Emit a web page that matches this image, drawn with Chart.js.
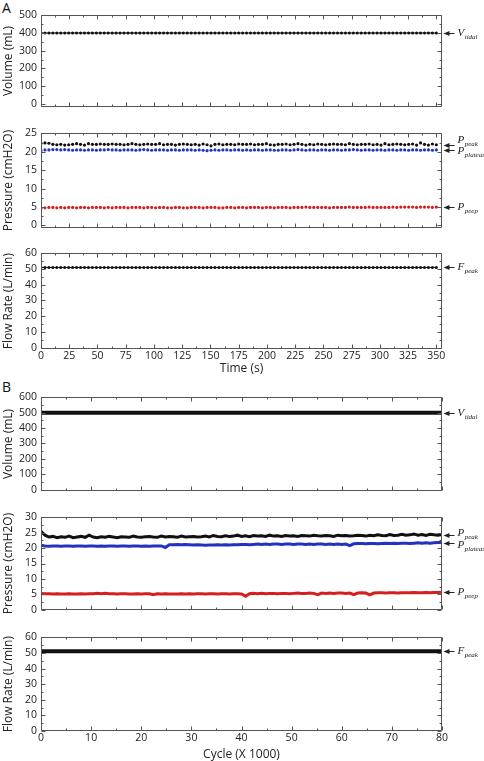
<!DOCTYPE html>
<html>
<head>
<meta charset="utf-8">
<script src="https://cdn.jsdelivr.net/npm/chart.js@4.4.1/dist/chart.umd.min.js"></script>
<style>
  body { margin: 0; background: #fff; width: 484px; height: 761px; position: relative; overflow: hidden; font-family: "Open Sans", sans-serif; }
  canvas { position: absolute; left: 0; }
  .tag { position: absolute; left: 2px; font-size: 14px; line-height: 1; color: #111; }
</style>
</head>
<body>
<div class="tag" style="top:1px">A</div>
<div class="tag" style="top:380px">B</div>
<canvas id="a1"></canvas>
<canvas id="a2"></canvas>
<canvas id="a3"></canvas>
<canvas id="b1"></canvas>
<canvas id="b2"></canvas>
<canvas id="b3"></canvas>
<script>
// ---- tick labels ----
const timeTicks = [0,25,50,75,100,125,150,175,200,225,250,275,300,325,350];
const cycleTicks = [0,10,20,30,40,50,60,70,80];
const volTicksA = [0,100,200,300,400,500];
const volTicksB = [0,100,200,300,400,500,600];
const presTicksA = [0,5,10,15,20,25];
const presTicksB = [0,5,10,15,20,25,30];
const flowTicks = [0,10,20,30,40,50,60];

// ---- Panel A: time (s) ----
const timeA = [
  0,3.5,7,10.5,14,17.5,21,24.5,28,31.5,
  35,38.5,42,45.5,49,52.5,56,59.5,63,66.5,
  70,73.5,77,80.5,84,87.5,91,94.5,98,101.5,
  105,108.5,112,115.5,119,122.5,126,129.5,133,136.5,
  140,143.5,147,150.5,154,157.5,161,164.5,168,171.5,
  175,178.5,182,185.5,189,192.5,196,199.5,203,206.5,
  210,213.5,217,220.5,224,227.5,231,234.5,238,241.5,
  245,248.5,252,255.5,259,262.5,266,269.5,273,276.5,
  280,283.5,287,290.5,294,297.5,301,304.5,308,311.5,
  315,318.5,322,325.5,329,332.5,336,339.5,343,346.5,
  350
];
const volumeA = [
  400,400,400,400,400,400,400,400,400,400,
  400,400,400,400,400,400,400,400,400,400,
  400,400,400,400,400,400,400,400,400,400,
  400,400,400,400,400,400,400,400,400,400,
  400,400,400,400,400,400,400,400,400,400,
  400,400,400,400,400,400,400,400,400,400,
  400,400,400,400,400,400,400,400,400,400,
  400,400,400,400,400,400,400,400,400,400,
  400,400,400,400,400,400,400,400,400,400,
  400,400,400,400,400,400,400,400,400,400,
  400
];
const peakA = [
  22.3,22.4,22.3,22.0,21.9,22.0,21.8,21.9,22.0,22.2,
  22.0,21.8,22.2,22.0,22.0,22.1,22.0,22.0,22.1,22.0,
  22.0,21.9,22.0,22.2,22.0,21.9,22.0,22.1,22.0,22.0,
  22.2,21.9,22.0,22.0,21.8,22.0,22.1,22.0,21.9,22.0,
  21.8,22.1,21.9,21.6,22.0,22.1,21.9,22.0,22.0,21.9,
  22.1,22.0,22.0,22.1,21.9,22.0,22.0,22.2,21.9,21.8,
  22.0,22.0,22.1,21.9,22.0,22.2,22.0,21.8,22.0,21.9,
  22.1,22.0,21.9,22.0,22.1,22.0,22.0,21.9,22.2,22.0,
  21.9,22.0,22.0,22.1,21.9,22.0,21.8,22.2,21.9,22.0,
  22.1,22.0,21.9,22.0,22.1,21.8,22.4,22.0,21.8,22.1,
  21.9
];
const plateauA = [
  20.3,20.5,20.5,20.6,20.6,20.5,20.6,20.5,20.4,20.5,
  20.5,20.4,20.5,20.5,20.4,20.5,20.5,20.6,20.5,20.5,
  20.4,20.5,20.5,20.5,20.4,20.5,20.6,20.5,20.4,20.5,
  20.5,20.5,20.4,20.5,20.5,20.4,20.5,20.5,20.5,20.4,
  20.5,20.4,20.3,20.4,20.5,20.4,20.5,20.5,20.4,20.5,
  20.5,20.4,20.5,20.4,20.5,20.5,20.4,20.5,20.5,20.4,
  20.4,20.5,20.5,20.4,20.5,20.6,20.5,20.4,20.5,20.5,
  20.4,20.5,20.5,20.4,20.5,20.5,20.4,20.5,20.5,20.6,
  20.5,20.4,20.5,20.5,20.4,20.5,20.5,20.4,20.5,20.5,
  20.4,20.5,20.5,20.4,20.5,20.5,20.4,20.5,20.5,20.4,
  20.5
];
const peepA = [
  4.6,4.8,4.9,4.9,4.8,4.9,4.8,4.9,4.9,4.8,
  4.9,4.9,4.8,4.9,4.9,4.9,4.8,4.9,4.8,4.9,
  4.9,4.9,4.8,4.9,4.9,4.9,4.8,4.9,4.9,4.8,
  4.9,4.9,4.8,4.8,4.9,4.9,4.8,4.8,4.9,4.9,
  4.9,4.8,4.9,4.9,4.9,4.8,4.8,4.9,4.9,4.8,
  4.9,4.9,4.8,4.9,4.9,4.9,4.8,4.9,4.9,4.8,
  4.9,4.9,4.9,4.8,4.9,4.9,4.9,5.0,4.9,4.9,
  4.9,4.9,4.9,4.8,4.9,4.9,4.9,4.9,5.0,4.9,
  4.9,4.9,4.9,5.0,4.9,4.9,4.9,4.9,4.9,5.0,
  4.9,5.0,5.0,5.0,5.0,4.9,5.0,5.0,5.0,4.9,
  5.0
];
const flowA = [
  51,51,51,51,51,51,51,51,51,51,
  51,51,51,51,51,51,51,51,51,51,
  51,51,51,51,51,51,51,51,51,51,
  51,51,51,51,51,51,51,51,51,51,
  51,51,51,51,51,51,51,51,51,51,
  51,51,51,51,51,51,51,51,51,51,
  51,51,51,51,51,51,51,51,51,51,
  51,51,51,51,51,51,51,51,51,51,
  51,51,51,51,51,51,51,51,51,51,
  51,51,51,51,51,51,51,51,51,51,
  51
];

// ---- Panel B: cycle (x 1000) ----
const cycleB = [
  0,0.8,1.6,2.4,3.2,4,4.8,5.6,6.4,7.2,
  8,8.8,9.6,10.4,11.2,12,12.8,13.6,14.4,15.2,
  16,16.8,17.6,18.4,19.2,20,20.8,21.6,22.4,23.2,
  24,24.8,25.6,26.4,27.2,28,28.8,29.6,30.4,31.2,
  32,32.8,33.6,34.4,35.2,36,36.8,37.6,38.4,39.2,
  40,40.8,41.6,42.4,43.2,44,44.8,45.6,46.4,47.2,
  48,48.8,49.6,50.4,51.2,52,52.8,53.6,54.4,55.2,
  56,56.8,57.6,58.4,59.2,60,60.8,61.6,62.4,63.2,
  64,64.8,65.6,66.4,67.2,68,68.8,69.6,70.4,71.2,
  72,72.8,73.6,74.4,75.2,76,76.8,77.6,78.4,79.2,
  80
];
const volumeB = [
  500,500,500,500,500,500,500,500,500,500,
  500,500,500,500,500,500,500,500,500,500,
  500,500,500,500,500,500,500,500,500,500,
  500,500,500,500,500,500,500,500,500,500,
  500,500,500,500,500,500,500,500,500,500,
  500,500,500,500,500,500,500,500,500,500,
  500,500,500,500,500,500,500,500,500,500,
  500,500,500,500,500,500,500,500,500,500,
  500,500,500,500,500,500,500,500,500,500,
  500,500,500,500,500,500,500,500,500,500,
  500
];
const peakB = [
  25.4,24.2,23.6,23.8,23.4,23.7,23.5,23.9,23.4,23.6,
  23.8,23.5,24.2,23.6,23.4,23.7,23.5,23.8,23.6,23.4,
  23.7,23.6,23.5,23.9,23.6,23.5,23.7,23.8,23.6,23.5,
  23.9,23.6,23.8,23.7,23.5,23.9,23.6,23.7,23.8,23.6,
  23.7,23.9,23.6,24.1,23.8,23.7,24.0,23.8,23.9,24.2,
  23.8,24.0,23.7,24.1,23.9,24.0,23.8,24.2,23.9,24.0,
  23.8,24.1,23.9,24.0,23.8,24.1,24.0,23.9,24.2,24.0,
  23.9,24.1,24.0,23.8,24.2,24.0,24.1,23.9,24.0,24.2,
  24.1,23.9,24.2,24.0,24.3,24.1,24.0,24.4,24.1,24.2,
  24.5,24.2,24.3,24.6,24.2,24.4,24.1,24.5,24.3,24.2,
  24.4
];
const plateauB = [
  20.9,20.7,20.6,20.7,20.7,20.6,20.7,20.7,20.6,20.7,
  20.7,20.6,20.7,20.7,20.6,20.7,20.6,20.7,20.7,20.6,
  20.7,20.7,20.6,20.7,20.7,20.6,20.7,20.6,20.7,20.7,
  20.7,20.2,21.1,21.1,21.2,21.1,21.2,21.1,21.0,21.1,
  21.0,20.9,21.0,21.0,21.1,21.0,21.1,21.0,21.1,21.1,
  21.2,21.2,21.1,21.2,21.3,21.2,21.3,21.2,21.3,21.3,
  21.2,21.3,21.3,21.2,21.3,21.3,21.2,21.3,21.2,21.3,
  21.3,21.2,21.3,21.2,21.3,21.2,21.3,20.8,21.4,21.5,
  21.5,21.4,21.5,21.5,21.4,21.5,21.6,21.5,21.6,21.5,
  21.6,21.6,21.5,21.6,21.7,21.6,21.7,21.6,21.7,21.8,
  21.8
];
const peepB = [
  5.3,5.2,5.2,5.1,5.2,5.1,5.1,5.2,5.1,5.1,
  5.2,5.1,5.2,5.2,5.3,5.2,5.3,5.2,5.2,5.1,
  5.2,5.2,5.1,5.1,5.2,5.1,5.2,5.2,4.9,5.2,
  5.1,5.2,5.1,5.1,5.1,5.2,5.1,5.2,5.1,5.2,
  5.2,5.1,5.2,5.2,5.1,5.2,5.2,5.1,5.2,5.2,
  5.1,4.4,5.2,5.3,5.2,5.3,5.2,5.3,5.3,5.2,
  5.3,5.3,5.2,5.3,5.4,5.3,5.3,5.4,5.3,4.9,
  5.4,5.3,5.4,5.3,5.4,5.4,5.3,5.4,4.9,5.4,
  5.5,5.4,4.8,5.4,5.5,5.5,5.4,5.5,5.5,5.4,
  5.5,5.5,5.5,5.6,5.5,5.5,5.6,5.5,5.6,5.6,
  5.7
];
const flowB = [
  51,51,51,51,51,51,51,51,51,51,
  51,51,51,51,51,51,51,51,51,51,
  51,51,51,51,51,51,51,51,51,51,
  51,51,51,51,51,51,51,51,51,51,
  51,51,51,51,51,51,51,51,51,51,
  51,51,51,51,51,51,51,51,51,51,
  51,51,51,51,51,51,51,51,51,51,
  51,51,51,51,51,51,51,51,51,51,
  51,51,51,51,51,51,51,51,51,51,
  51,51,51,51,51,51,51,51,51,51,
  51
];

const BLACK = '#111', BLUE = '#2233c0', RED = '#d42020';
const pts = (xs, ys) => ys.map((v, i) => ({ x: xs[i], y: v }));

// frame with inward major/minor ticks on all four sides + arrow labels on the right
const frame = {
  id: 'frame',
  afterDraw(chart) {
    const { ctx, chartArea: a, scales: { x, y } } = chart;
    const L = Math.round(a.left) + 0.5, R = Math.round(a.right) - 0.5;
    const T = Math.round(a.top) + 0.5, B = Math.round(a.bottom) - 0.5;
    ctx.save();
    ctx.strokeStyle = '#555';
    ctx.lineWidth = 1;
    ctx.beginPath();
    ctx.rect(L, T, R - L, B - T);
    const xs = (x.ticks[1].value - x.ticks[0].value) / 2;
    const ys = (y.ticks[1].value - y.ticks[0].value) / 2;
    for (let k = Math.ceil(x.min / xs); k * xs <= x.max; k++) {
      const len = k % 2 === 0 ? 4 : 2;
      const px = Math.round(x.getPixelForValue(k * xs)) + 0.5;
      ctx.moveTo(px, B); ctx.lineTo(px, B - len);
      ctx.moveTo(px, T); ctx.lineTo(px, T + len);
    }
    for (let k = Math.ceil(y.min / ys); k * ys <= y.max; k++) {
      const len = k % 2 === 0 ? 4 : 2;
      const py = Math.round(y.getPixelForValue(k * ys)) + 0.5;
      ctx.moveTo(L, py); ctx.lineTo(L + len, py);
      ctx.moveTo(R, py); ctx.lineTo(R - len, py);
    }
    ctx.stroke();

    ctx.fillStyle = '#222';
    ctx.strokeStyle = '#222';
    chart.data.datasets.forEach(ds => {
      if (!ds.tag) return;
      const v = ds.data[ds.data.length - 1].y;
      const py = Math.round(y.getPixelForValue(v)) + 0.5;
      ctx.beginPath();
      ctx.moveTo(R + 5, py); ctx.lineTo(R + 13, py);
      ctx.stroke();
      ctx.beginPath();
      ctx.moveTo(R + 2, py); ctx.lineTo(R + 8, py - 2.5); ctx.lineTo(R + 8, py + 2.5);
      ctx.closePath(); ctx.fill();
      const ty = py + (ds.tagDy || 0);
      ctx.textBaseline = 'middle';
      ctx.font = 'italic 11px "Liberation Serif"';
      ctx.fillText(ds.tag[0], R + 16, ty);
      const w = ctx.measureText(ds.tag[0]).width;
      ctx.font = 'italic 7px "Liberation Serif"';
      ctx.fillText(ds.tag[1], R + 16 + w + 0.5, ty + 3.5);
    });
    ctx.restore();
  }
};

function panel(id, top, bottom, o) {
  const padTop = 8, padBottom = o.xTitle ? 2 : 8;
  const xH = o.xTitle ? o.xH : 0;
  const cv = document.getElementById(id);
  cv.width = 484;
  cv.height = bottom - top + padTop + padBottom + xH;
  cv.style.top = (top - padTop) + 'px';
  const useTicks = list => scale => { scale.ticks = list.map(v => ({ value: v })); };
  new Chart(cv, {
    type: 'line',
    data: { datasets: o.datasets },
    options: {
      responsive: false,
      animation: false,
      layout: { padding: { top: padTop, bottom: padBottom, left: 0, right: 42 } },
      plugins: { legend: { display: false }, tooltip: { enabled: false } },
      scales: {
        x: {
          type: 'linear', min: o.xMin, max: o.xMax,
          grid: { display: false, drawTicks: false },
          border: { display: false },
          ticks: { display: !!o.xTitle, padding: 1,
                   color: '#222', font: { family: 'Open Sans', size: 10.5 } },
          title: { display: !!o.xTitle, text: o.xTitle, color: '#222', padding: { top: 0, bottom: 0 },
                   font: { family: 'Open Sans', size: 12 } },
          afterBuildTicks: useTicks(o.xTicks),
          afterFit: s => { s.height = xH; }
        },
        y: {
          min: o.yMin, max: o.yMax,
          grid: { display: false, drawTicks: false },
          border: { display: false },
          ticks: { padding: 4, color: '#222', font: { family: 'Open Sans', size: 10.5 } },
          title: { display: true, text: o.yTitle, color: '#222', padding: { top: 1, bottom: 0 },
                   font: { family: 'Open Sans', size: 12 } },
          afterBuildTicks: useTicks(o.yTicks),
          afterFit: s => { s.width = 41; }
        }
      }
    },
    plugins: [frame]
  });
}

const dotLine = (data, color, tag, dy) => ({
  data, borderColor: color, backgroundColor: color, borderWidth: 1,
  pointRadius: 1.5, pointBorderWidth: 0, tag, tagDy: dy
});
const dots = (data, color, tag, dy) => ({
  data, borderColor: color, backgroundColor: color, showLine: false,
  pointRadius: 1.6, pointBorderWidth: 0, tag, tagDy: dy
});
const thick = (data, color, w, tag, dy) => ({
  data, borderColor: color, backgroundColor: color, borderWidth: w,
  pointRadius: w > 3 ? 0 : 1, pointBorderWidth: 0, tension: 0, tag, tagDy: dy
});

panel('a1', 13, 109, {
  xMin: 0, xMax: 355, xTicks: timeTicks, yMin: -16, yMax: 500, yTicks: volTicksA, yTitle: 'Volume (mL)',
  datasets: [dotLine(pts(timeA, volumeA), BLACK, ['V', 'tidal'], 0)]
});
panel('a2', 131, 230, {
  xMin: 0, xMax: 355, xTicks: timeTicks, yMin: -0.6, yMax: 25, yTicks: presTicksA, yTitle: 'Pressure (cmH2O)',
  datasets: [
    dots(pts(timeA, peakA), BLACK, ['P', 'peak'], -5),
    dots(pts(timeA, plateauA), BLUE, ['P', 'plateau'], 1),
    dots(pts(timeA, peepA), RED, ['P', 'peep'], 0)
  ]
});
panel('a3', 251, 349, {
  xMin: 0, xMax: 355, xTicks: timeTicks, yMin: -0.9, yMax: 60, yTicks: flowTicks, yTitle: 'Flow Rate (L/min)',
  xTitle: 'Time (s)', xH: 27,
  datasets: [dotLine(pts(timeA, flowA), BLACK, ['F', 'peak'], 0)]
});
panel('b1', 395, 493, {
  xMin: 0, xMax: 80, xTicks: cycleTicks, yMin: -7, yMax: 600, yTicks: volTicksB, yTitle: 'Volume (mL)',
  datasets: [thick(pts(cycleB, volumeB), BLACK, 4, ['V', 'tidal'], 0)]
});
panel('b2', 515, 612, {
  xMin: 0, xMax: 80, xTicks: cycleTicks, yMin: 0, yMax: 30, yTicks: presTicksB, yTitle: 'Pressure (cmH2O)',
  datasets: [
    thick(pts(cycleB, peakB), BLACK, 3, ['P', 'peak'], -2),
    thick(pts(cycleB, plateauB), BLUE, 3, ['P', 'plateau'], 2),
    thick(pts(cycleB, peepB), RED, 3, ['P', 'peep'], 0)
  ]
});
panel('b3', 635, 731, {
  xMin: 0, xMax: 80, xTicks: cycleTicks, yMin: 0, yMax: 60, yTicks: flowTicks, yTitle: 'Flow Rate (L/min)',
  xTitle: 'Cycle (X 1000)', xH: 31,
  datasets: [thick(pts(cycleB, flowB), BLACK, 4, ['F', 'peak'], 0)]
});
</script>
</body>
</html>
